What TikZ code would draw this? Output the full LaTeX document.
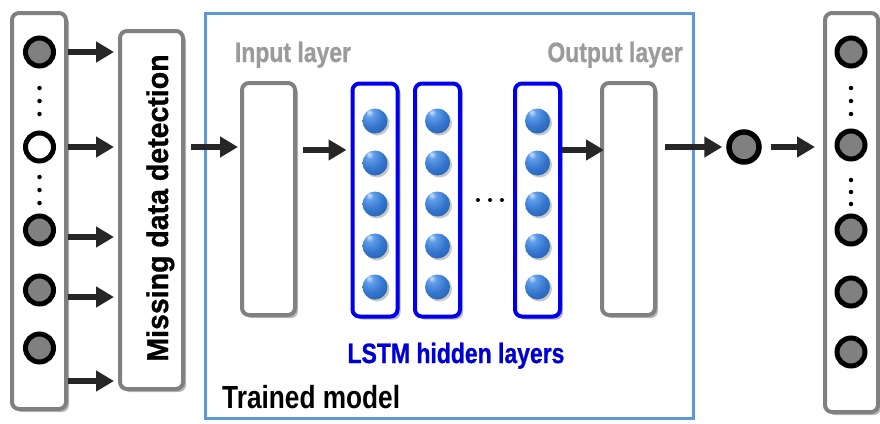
\documentclass[tikz,border=0pt]{standalone}
\usepackage{fontspec}
\newfontfamily\lblfont[FakeStretch=0.82,FakeBold=0.8]{Liberation Sans}
\newfontfamily\plainlblfont[FakeStretch=0.82]{Liberation Sans}
\newfontfamily\detfont[FakeStretch=0.95,FakeBold=1]{Liberation Sans}
\usetikzlibrary{arrows.meta,shadows}

\definecolor{boxgray}{RGB}{128,128,128}
\definecolor{nodegray}{RGB}{128,128,128}
\definecolor{lstmblue}{RGB}{0,0,235}
\definecolor{modelblue}{RGB}{91,155,213}
\definecolor{arrowdark}{RGB}{38,38,38}
\definecolor{labelgray}{RGB}{155,155,155}
\definecolor{textblue}{RGB}{0,0,210}

% glossy blue sphere for the LSTM units
\pgfdeclareradialshading{unitball}{\pgfpoint{-12bp}{18bp}}{%
  color(0bp)=(rgb,1:red,0.80;green,0.90;blue,1);
  color(8bp)=(rgb,1:red,0.38;green,0.62;blue,0.92);
  color(25bp)=(rgb,1:red,0.20;green,0.46;blue,0.80);
  color(50bp)=(rgb,1:red,0.12;green,0.32;blue,0.64);
  color(80bp)=(rgb,1:red,0.07;green,0.18;blue,0.42)}

\begin{document}
\begin{tikzpicture}[x=1pt,y=-1pt,
  softshadow/.style={drop shadow={shadow xshift=3pt,shadow yshift=-3pt,opacity=0.28,fill=black}},
  graybox/.style={draw=boxgray,line width=4pt,rounded corners=7pt,fill=white,inner sep=0pt,softshadow},
  lstmbox/.style={draw=lstmblue,line width=4pt,rounded corners=7pt,fill=white,inner sep=0pt,softshadow,
    minimum width=45pt,minimum height=233pt},
  layerbox/.style={graybox,minimum width=53pt,minimum height=232pt},
  datanode/.style={circle,draw=black,line width=5pt,fill=nodegray,minimum size=28pt,inner sep=0pt},
  unit/.style={circle,shading=unitball,minimum size=25pt,inner sep=0pt,
    drop shadow={shadow xshift=2pt,shadow yshift=-2pt,opacity=0.22,fill=black}},
  smalldot/.style={circle,fill=black,minimum size=4.5pt,inner sep=0pt},
  flow/.style={line width=6pt,draw=arrowdark,-{Triangle[length=18pt,width=20pt]}},
  graylabel/.style={text=labelgray,font=\lblfont\bfseries\fontsize{28}{30}\selectfont,anchor=base},
]
\useasboundingbox (0,0) rectangle (880,423);

% trained model frame
\node[draw=modelblue,line width=3pt,minimum width=488pt,minimum height=405pt,inner sep=0pt]
  (model) at (449,215.5) {};

% input series
\node[graybox,minimum width=54pt,minimum height=396pt] (inbox) at (39,211) {};
\foreach \i/\y in {1/52,3/230,4/290,5/348}
  \node[datanode] (in\i) at (39.5,\y) {};
\node[datanode,fill=white] (in2) at (39.5,147) {};
\foreach \j/\y in {1/88,2/101,3/114,4/177,5/190,6/203}
  \node[smalldot] (ind\j) at (39.5,\y) {};

% missing data detection
\node[graybox,minimum width=63pt,minimum height=358pt] (det) at (151.5,210) {};
\node[rotate=90,anchor=base,font=\detfont\bfseries\fontsize{30}{32}\selectfont,inner sep=0pt]
  (dettext) at (168,208) {Missing data detection};

\foreach \k/\y in {1/52,2/147,3/237,4/297,5/381}
  \draw[flow,shorten >=4pt] (inbox.east |- 0,\y) -- (det.west |- 0,\y);

% network layers
\node[layerbox] (inlayer) at (268.5,199) {};
\node[layerbox] (outlayer) at (628.5,199) {};
\node[graylabel] (inlbl) at (293,62) {Input layer};
\node[graylabel] (outlbl) at (615,62) {Output layer};

\node[lstmbox] (h1) at (375,200) {};
\node[lstmbox] (h2) at (437.5,200) {};
\node[lstmbox] (h3) at (537.5,200) {};
\foreach \L/\x in {1/375,2/437.5,3/537.5}
  \foreach \k/\y in {1/121,2/163,3/204,4/246,5/287}
    \node[unit] (u\L\k) at (\x,\y) {};
\foreach \j/\x in {1/478,2/490,3/502}
  \node[smalldot,minimum size=4pt] (hd\j) at (\x,200) {};

\node[anchor=base,text=textblue,font=\lblfont\bfseries\fontsize{28}{30}\selectfont]
  (lstmlbl) at (456,363) {LSTM hidden layers};
\node[anchor=base west,font=\plainlblfont\bfseries\fontsize{32}{34}\selectfont,inner sep=0pt]
  (modellbl) at (222,408) {Trained model};

\draw[flow,shorten <=6pt,shorten >=2pt] (det.east |- 0,147) -- (inlayer.west |- 0,147);
\draw[flow,shorten <=6pt,shorten >=4pt] (inlayer.east |- 0,150) -- (h1.west |- 0,150);
\draw[flow,shorten >=-4pt] (h3.east |- 0,150) -- (outlayer.west |- 0,150);

% predicted value
\node[datanode,line width=5.5pt,minimum size=30pt] (pred) at (744,147) {};
\draw[flow,shorten <=8pt,shorten >=4pt] (outlayer.east |- pred) -- (pred.west);

% output series
\node[graybox,minimum width=53pt,minimum height=399pt] (outbox) at (851.5,212.5) {};
\foreach \i/\y in {1/52,2/145,3/230,4/292,5/352}
  \node[datanode] (out\i) at (851,\y) {};
\foreach \j/\y in {1/88,2/101,3/114,4/180,5/192,6/204}
  \node[smalldot] (outd\j) at (851,\y) {};

\draw[flow,shorten <=9pt,shorten >=8pt] (pred.east) -- (outbox.west |- pred);
\end{tikzpicture}
\end{document}
